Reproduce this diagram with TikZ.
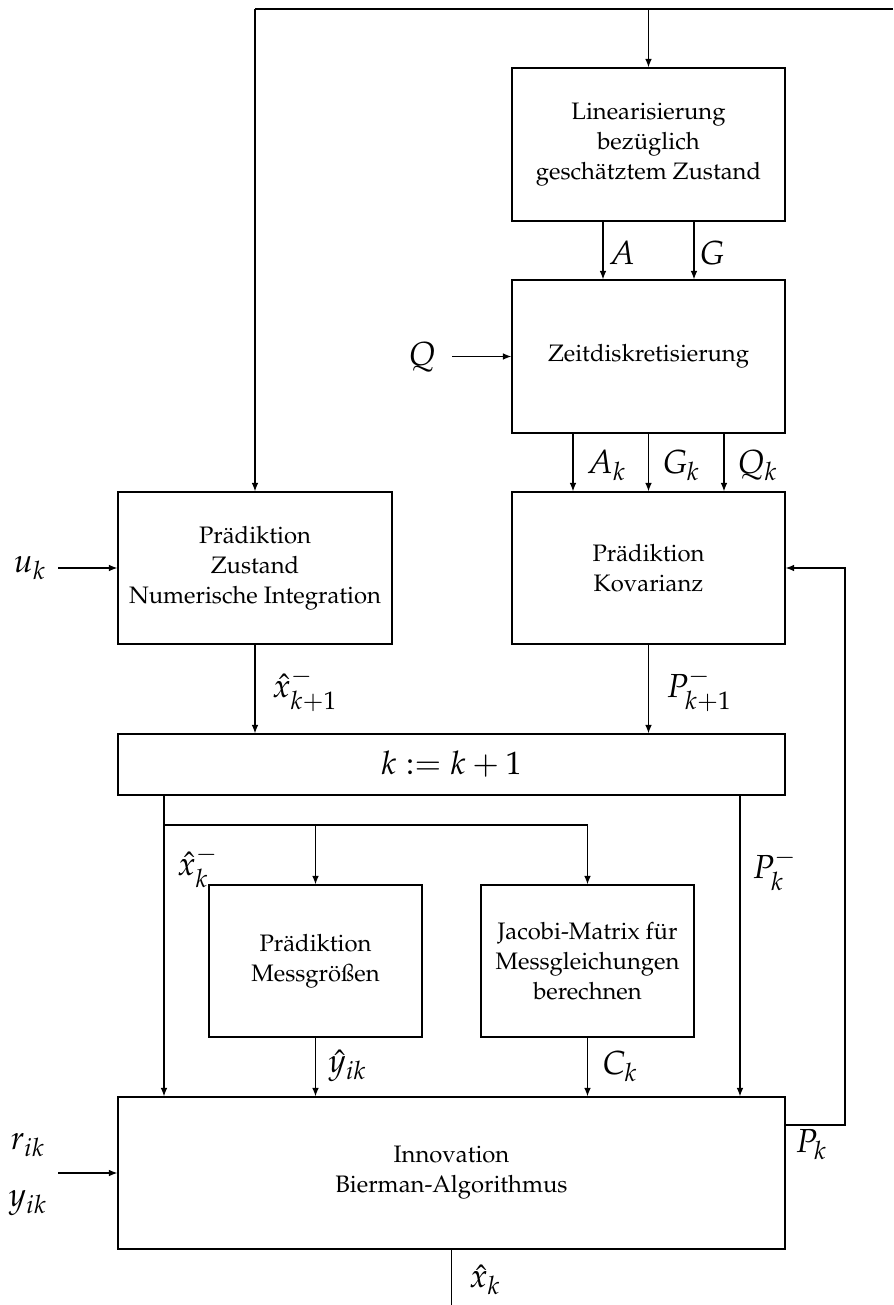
\documentclass[tikz,border=0pt]{standalone}
\usepackage[T1]{fontenc}
\usepackage{mathpazo}
\usetikzlibrary{arrows.meta}
\begin{document}
\begin{tikzpicture}[x=0.42pt,y=-0.42pt,
  box/.style 2 args={draw, line width=0.5pt, minimum width=#1*0.42pt, minimum height=#2*0.42pt, inner sep=0pt, align=center, font=\fontsize{10}{12.6}\selectfont},
  lab/.style={inner sep=0pt, font=\fontsize{14}{16}\selectfont},
  wlab/.style={lab, anchor=west},
  arr/.style={line width=0.5pt, -{Latex[length=3.6pt,width=2.8pt]}},
  ln/.style={line width=0.5pt}]
\useasboundingbox (0,0) rectangle (893,1305);

% boxes
\node[box={273}{153}] (lin) at (648.5,144.5) {Linearisierung\\bez\"uglich\\gesch\"atztem Zustand};
\node[box={273}{153}] (zeit) at (648.5,356.5) {Zeitdiskretisierung};
\node[box={273}{152}] (kov) at (648.5,568) {Pr\"adiktion\\Kovarianz};
\node[box={274}{152}] (zust) at (255,568) {Pr\"adiktion\\Zustand\\Numerische Integration};
\node[box={667}{61}] (kk) at (451.5,764.5) {\fontsize{13.6}{15}\selectfont $k := k+1$};
\node[box={213}{152}] (mess) at (315.5,961) {Pr\"adiktion\\Messgr\"o\ss en};
\node[box={213}{152}] (jac) at (587.5,961) {Jacobi-Matrix f\"ur\\Messgleichungen\\berechnen};
\node[box={667}{152}] (inn) at (451.5,1173) {Innovation\\Bierman-Algorithmus};

% helper coordinates
\coordinate (tr) at (893,9);
\coordinate (tl) at (255,9);
\coordinate (tm) at (648.5,9);
\coordinate (xa) at (603,0);
\coordinate (xg) at (694,0);
\coordinate (xak) at (573,0);
\coordinate (xgk) at (648.5,0);
\coordinate (xqk) at (724,0);
\coordinate (qs) at (452,356.5);
\coordinate (us) at (58,568);
\coordinate (fb) at (845,1125);
\coordinate (xl) at (164,0);
\coordinate (br) at (164,825);
\coordinate (xp) at (740,0);
\coordinate (rs) at (58,1173);
\coordinate (out) at (451.5,1305);

% input labels
\node[lab] (q) at (422,357) {$Q$};
\node[lab] (uk) at (30,568) {$u_k$};
\node[lab] (rik) at (28,1145) {$r_{ik}$};
\node[lab] (yik) at (28,1203) {$y_{ik}$};

% connectors
\draw[ln] (tr) -- (tl);
\draw[arr] (tl) -- (zust.north);
\draw[arr] (tm) -- (lin.north);
\draw[arr] (lin.south -| xa) -- (zeit.north -| xa);
\draw[arr] (lin.south -| xg) -- (zeit.north -| xg);
\draw[arr] (zeit.south -| xak) -- (kov.north -| xak);
\draw[arr] (zeit.south -| xgk) -- (kov.north -| xgk);
\draw[arr] (zeit.south -| xqk) -- (kov.north -| xqk);
\draw[arr] (qs) -- (zeit.west);
\draw[arr] (us) -- (zust.west);
\draw[arr] (zust.south) -- (kk.north -| zust.south);
\draw[arr] (kov.south) -- (kk.north -| kov.south);
\draw[arr] (inn.east |- fb) -- (fb) -- (fb |- kov.east) -- (kov.east);
\draw[arr] (kk.south -| xl) -- (inn.north -| xl);
\draw[ln] (br) -- (br -| jac.north);
\draw[arr] (br -| mess.north) -- (mess.north);
\draw[arr] (br -| jac.north) -- (jac.north);
\draw[arr] (kk.south -| xp) -- (inn.north -| xp);
\draw[arr] (mess.south) -- (inn.north -| mess.south);
\draw[arr] (jac.south) -- (inn.north -| jac.south);
\draw[arr] (rs) -- (inn.west);
\draw[ln] (inn.south -| out) -- (out);

% connector labels
\node[wlab] (la) at (608,253) {$A$};
\node[wlab] (lg) at (699,253) {$G$};
\node[wlab] (lak) at (586,465) {$A_k$};
\node[wlab] (lgk) at (662,465) {$G_k$};
\node[wlab] (lqk) at (737,465) {$Q_k$};
\node[wlab] (lx1) at (272,690) {$\hat{x}^-_{k+1}$};
\node[wlab] (lp1) at (666,690) {$P^-_{k+1}$};
\node[wlab] (lxk) at (177,867) {$\hat{x}^-_k$};
\node[wlab] (lpk) at (752,870) {$P^-_k$};
\node[wlab] (ly) at (328,1066) {$\hat{y}_{ik}$};
\node[wlab] (lc) at (602,1066) {$C_k$};
\node[wlab] (lP) at (795,1145) {$P_k$};
\node[wlab] (lxo) at (469,1280) {$\hat{x}_k$};
\end{tikzpicture}
\end{document}
